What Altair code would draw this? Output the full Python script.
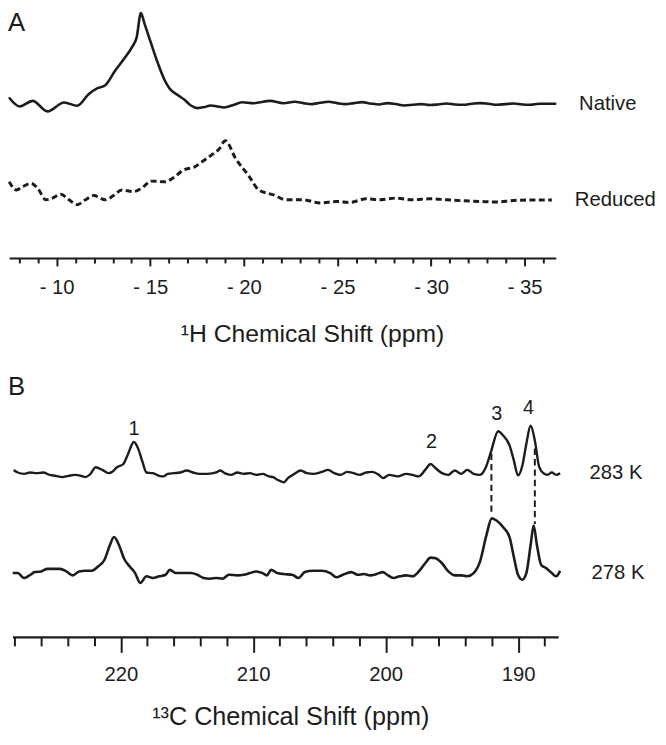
import altair as alt
import pandas as pd

# ---------------- Panel A : 1H spectra (ppm, intensity above own baseline) ----------------
native_ppm = [-7.49, -8.02, -8.72, -9.51, -10.40, -11.10, -11.72, -12.16, -12.60, -13.13,
              -13.66, -14.01, -14.27, -14.50, -14.71, -15.06, -15.42, -15.77, -16.03, -16.47,
              -16.83, -17.17, -17.53, -17.88, -18.23, -18.58, -18.94, -19.47, -19.91, -20.52,
              -21.40, -22.11, -22.72, -23.17, -23.62, -24.07, -24.52, -24.97, -25.42, -25.87,
              -26.32, -26.77, -27.22, -27.67, -28.12, -28.57, -29.02, -29.47, -29.92, -30.37,
              -30.82, -31.27, -31.72, -32.17, -32.62, -33.07, -33.52, -33.97, -34.42, -34.87,
              -35.32, -35.77, -36.22, -36.63]
native_int = [5.6, -2.7, 3.0, -7.7, 1.3, -2.0, 10.0, 15.6, 19.0, 34.0,
              47.3, 57.3, 67.3, 92.3, 80.6, 60.6, 40.6, 24.0, 15.6, 9.0,
              4.0, -1.7, -4.4, -3.4, -1.7, -2.7, -3.7, -1.0, 1.6, 0.6,
              3.0, 0.6, 2.0, 0.7, -0.3, 1.0, 2.0, 0.7, -0.3, 0.7,
              1.7, 0.3, -0.7, 0.7, -0.3, -1.7, -1.0, -0.3, -1.3, -0.7,
              0.3, -0.7, -1.0, 0.0, 0.7, 0.0, -1.0, -0.3, 0.3, -0.7,
              -1.0, 0.0, 0.0, 0.0]

reduced_ppm = [-7.46, -7.85, -8.19, -8.64, -8.99, -9.43, -9.78, -10.22, -10.66, -11.10,
               -11.54, -11.98, -12.60, -13.04, -13.48, -14.09, -14.53, -15.06, -15.77, -16.30,
               -16.74, -17.35, -17.79, -18.23, -18.68, -19.01, -19.57, -20.24, -20.80, -21.59,
               -22.27, -23.17, -24.07, -24.97, -25.64, -26.55, -27.22, -28.12, -29.02, -29.92,
               -30.82, -31.72, -32.62, -33.52, -34.42, -35.33, -36.45]
reduced_int = [18.3, 10.0, 13.3, 16.7, 11.7, 0.0, 1.7, 5.7, 0.0, -5.0,
               0.0, 4.3, 0.0, 4.3, 10.0, 8.3, 11.7, 19.0, 18.3, 23.3,
               30.0, 33.3, 39.0, 45.0, 51.7, 60.0, 41.7, 25.0, 10.0, 5.0,
               0.0, 0.0, -3.3, -1.7, -2.7, 1.0, 0.0, 1.7, 0.0, 1.0,
               0.0, -1.0, -1.7, -2.3, -0.7, -0.3, -0.3]

# ---------------- Panel B : 13C spectra ----------------
k283_ppm = [228.09, 227.78, 227.30, 226.82, 226.34, 225.86, 225.38, 224.91, 224.43, 223.95,
            223.47, 222.99, 222.68, 222.36, 221.88, 221.40, 220.92, 220.61, 220.29, 219.81,
            219.49, 219.01, 218.69, 218.37, 218.06, 217.58, 217.10, 216.78, 216.46, 215.98,
            215.51, 215.03, 214.55, 214.07, 213.43, 212.80, 212.48, 212.16, 211.68, 211.20,
            210.73, 210.25, 209.77, 209.29, 208.81, 208.50, 208.18, 207.70, 207.38, 206.90,
            206.42, 205.95, 205.47, 204.83, 204.35, 203.87, 203.40, 202.92, 202.44, 201.96,
            201.48, 201.01, 200.53, 200.21, 199.73, 199.09, 198.46, 197.98, 197.50, 197.02,
            196.61, 196.23, 195.75, 195.27, 194.79, 194.31, 193.84, 193.36, 192.88, 192.40,
            192.02, 191.51, 191.13, 190.65, 190.33, 190.01, 189.69, 189.38, 189.06, 188.74,
            188.42, 188.10, 187.78, 187.46, 187.14, 186.83]
k283_int = [3.3, 0.7, -0.7, 0.7, 0.0, 0.7, -1.7, -2.7, -4.0, -2.7,
            -1.7, -2.7, -4.0, -1.7, 6.0, 3.3, 0.0, 1.7, 6.0, 9.3,
            18.3, 31.7, 25.0, 11.7, 0.7, 0.0, -2.7, -3.3, -0.7, 0.0,
            0.7, 2.7, 0.7, -0.7, -0.7, 0.7, 2.7, 0.0, -1.7, 0.7,
            -0.7, 0.0, -1.7, -0.7, -3.3, -4.0, -6.7, -9.3, -5.0, -0.7,
            2.7, 0.0, -0.7, 1.3, 3.3, 0.0, -1.7, 1.3, 0.0, -1.7,
            0.7, 1.3, -1.7, -5.0, -1.7, -3.3, -0.7, -1.7, -3.3, 3.3,
            9.3, 5.0, 0.0, -1.7, 2.7, -0.7, 3.3, -0.7, -1.7, 7.3,
            23.3, 42.7, 38.3, 28.3, 13.3, -2.3, 7.3, 30.0, 48.3, 33.3,
            6.7, 0.0, -1.7, 0.7, -1.7, 0.0]

k278_ppm = [228.16, 227.78, 227.30, 226.82, 226.50, 226.02, 225.54, 225.07, 224.59, 224.11,
            223.63, 223.15, 222.68, 222.20, 221.72, 221.24, 220.83, 220.51, 220.13, 219.74,
            219.33, 218.92, 218.53, 218.06, 217.58, 217.10, 216.62, 216.30, 215.83, 215.35,
            214.71, 214.23, 213.75, 213.27, 212.80, 212.32, 211.84, 211.20, 210.73, 210.25,
            209.77, 209.29, 208.97, 208.65, 208.18, 207.70, 207.06, 206.58, 206.11, 205.47,
            204.83, 204.19, 203.72, 203.24, 202.60, 202.12, 201.64, 201.17, 200.69, 200.21,
            199.89, 199.41, 198.94, 198.46, 197.98, 197.50, 197.02, 196.61, 196.23, 195.75,
            195.27, 194.79, 194.31, 193.84, 193.36, 192.88, 192.40, 191.99, 191.61, 191.13,
            190.65, 190.33, 190.01, 189.69, 189.38, 189.06, 188.83, 188.58, 188.26, 187.88,
            187.46, 187.14, 186.83]
k278_int = [0.0, 0.0, -5.0, -1.7, 1.0, 1.7, 4.3, 4.3, 4.3, 1.7,
            -2.3, 1.7, 2.3, 2.3, 6.7, 13.3, 28.3, 36.7, 28.3, 14.3,
            6.7, 0.0, -10.0, -3.3, -5.0, -3.3, -1.7, 3.3, 0.0, 0.0,
            0.0, -1.7, -5.0, -5.7, -5.0, -5.7, -1.7, -2.3, -1.7, 0.0,
            1.7, 0.0, -2.3, 3.3, 0.0, -1.0, -1.7, -5.0, 1.0, 2.3,
            2.3, 0.0, -4.3, -1.7, 1.0, -1.7, -1.0, -2.3, -1.0, 1.0,
            -1.7, -5.0, -3.3, -2.3, -3.3, 1.7, 10.0, 15.7, 15.0, 10.0,
            1.7, -2.3, -2.3, -3.3, 0.0, 11.7, 38.3, 55.7, 53.3, 46.7,
            36.7, 16.7, -1.7, -6.7, 0.0, 28.3, 48.3, 28.3, 8.3, 5.0,
            0.0, -3.3, 2.3]

peak_labels = ["1", "2", "3", "4"]
peak_label_ppm = [219.01, 196.55, 191.61, 189.22]
peak_label_v = [211.7, 198.3, 226.7, 233.3]

dash_ppm = [192.02, 188.74]
dash_top = [186.7, 191.7]
dash_bottom = [123.3, 115.0]

# stacking offsets of each trace (vertical baseline, same units as intensities)
BASE = {"Native": 542.7, "Reduced": 445.0, "283 K": 166.7, "278 K": 65.0}

INK = "#1c1c1c"
FONT = "Liberation Sans"


def trace(ppm, inten, name):
    return pd.DataFrame({"ppm": ppm, "v": [BASE[name] + i for i in inten]})


dfN = trace(native_ppm, native_int, "Native")
dfR = trace(reduced_ppm, reduced_int, "Reduced")
df283 = trace(k283_ppm, k283_int, "283 K")
df278 = trace(k278_ppm, k278_int, "278 K")
df_peaks = pd.DataFrame({"ppm": peak_label_ppm, "v": peak_label_v, "t": peak_labels})
df_dash = pd.DataFrame({"ppm": dash_ppm, "v": dash_top, "v2": dash_bottom})

Y = alt.Y("v:Q", scale=alt.Scale(domain=[0, 636], nice=False, zero=False), axis=None)

axisA = alt.Axis(
    orient="bottom", offset=-383.3,
    values=list(range(-8, -37, -1)), tickCount=80,
    labelExpr="datum.value % 5 === 0 ? '- ' + abs(datum.value) : ''",
    tickSize={"condition": {"test": "datum.value % 5 === 0", "value": 8}, "value": 5},
    tickWidth=2, tickColor=INK, domainColor=INK, domainWidth=2.2,
    labelFont=FONT, labelFontSize=20.5, labelColor=INK, labelPadding=11.5,
    labelOverlap=False, labelFlush=False, labelBound=False, grid=False,
    title="¹H Chemical Shift (ppm)", titleFont=FONT, titleFontSize=25,
    titleFontWeight="normal", titleColor=INK, titleX=303, titleY=84,
    titleAlign="center", titleBaseline="alphabetic",
)
axisB = alt.Axis(
    orient="bottom", offset=0,
    values=list(range(188, 229, 2)), tickCount=80,
    labelExpr="datum.value % 10 === 0 ? '' + datum.value : ''",
    tickSize={"condition": {"test": "datum.value % 10 === 0", "value": 15.6}, "value": 9},
    tickWidth=2, tickColor=INK, domainColor=INK, domainWidth=2.2,
    labelFont=FONT, labelFontSize=20.5, labelColor=INK, labelPadding=12.9,
    labelOverlap=False, labelFlush=False, labelBound=False, grid=False,
    title="¹³C Chemical Shift (ppm)", titleFont=FONT, titleFontSize=25.5,
    titleFontWeight="normal", titleColor=INK, titleX=281, titleY=88.5,
    titleAlign="center", titleBaseline="alphabetic",
)

scaleA = alt.Scale(domain=[-7.46, -36.66], range=[-3.4, 549.6], nice=False, zero=False)
scaleB = alt.Scale(domain=[228.18, 186.98], nice=False, zero=False)


def label(text, xpix, v, size=20.5):
    return alt.Chart(pd.DataFrame({"t": [text], "v": [v]})).mark_text(
        align="left", baseline="middle", font=FONT, fontSize=size, color=INK
    ).encode(x=alt.value(xpix), y=Y, text="t:N")


native = alt.Chart(dfN).mark_line(color=INK, strokeWidth=2.6, interpolate="monotone",
                                  strokeJoin="round", strokeCap="round").encode(
    x=alt.X("ppm:Q", scale=scaleA, axis=axisA), y=Y)
reduced = alt.Chart(dfR).mark_line(color=INK, strokeWidth=3, strokeDash=[6, 3.5],
                                   interpolate="monotone", strokeJoin="round").encode(
    x=alt.X("ppm:Q", scale=scaleA), y=Y)
letterA = alt.Chart(pd.DataFrame({"t": ["A"]})).mark_text(
    align="left", baseline="top", font=FONT, fontSize=26, color=INK
).encode(x=alt.value(-4.5), y=alt.value(-2), text="t:N")

layerA = alt.layer(native, reduced, letterA,
                   label("Native", 573.2, BASE["Native"]),
                   label("Reduced", 568.8, BASE["Reduced"]))

t283 = alt.Chart(df283).mark_line(color=INK, strokeWidth=2.4, strokeJoin="round",
                                  interpolate="monotone").encode(
    x=alt.X("ppm:Q", scale=scaleB, axis=axisB), y=Y)
t278 = alt.Chart(df278).mark_line(color=INK, strokeWidth=2.6, strokeJoin="round",
                                  interpolate="monotone").encode(
    x=alt.X("ppm:Q", scale=scaleB), y=Y)
dashes = alt.Chart(df_dash).mark_rule(color=INK, strokeWidth=2, strokeDash=[6.5, 4]).encode(
    x=alt.X("ppm:Q", scale=scaleB), y=Y, y2=alt.Y2("v2:Q"))
peaks = alt.Chart(df_peaks).mark_text(font=FONT, fontSize=20, color=INK, baseline="middle").encode(
    x=alt.X("ppm:Q", scale=scaleB), y=Y, text="t:N")
letterB = alt.Chart(pd.DataFrame({"t": ["B"], "v": [267]})).mark_text(
    align="left", baseline="top", font=FONT, fontSize=26, color=INK
).encode(x=alt.value(-4.5), y=Y, text="t:N")

layerB = alt.layer(t283, t278, dashes, peaks, letterB,
                   label("283 K", 583.7, BASE["283 K"]),
                   label("278 K", 585.8, BASE["278 K"]))

chart = (
    alt.layer(layerA, layerB)
    .resolve_scale(x="independent")
    .resolve_axis(x="independent")
    .properties(
        width=552, height=632, background="white",
        autosize=alt.AutoSizeParams(type="none"),
        padding={"left": 4.5, "top": 0, "right": 101, "bottom": 95},
    )
    .configure_view(stroke=None)
)

chart.save("out.html", embed_options={"renderer": "svg", "actions": False})
